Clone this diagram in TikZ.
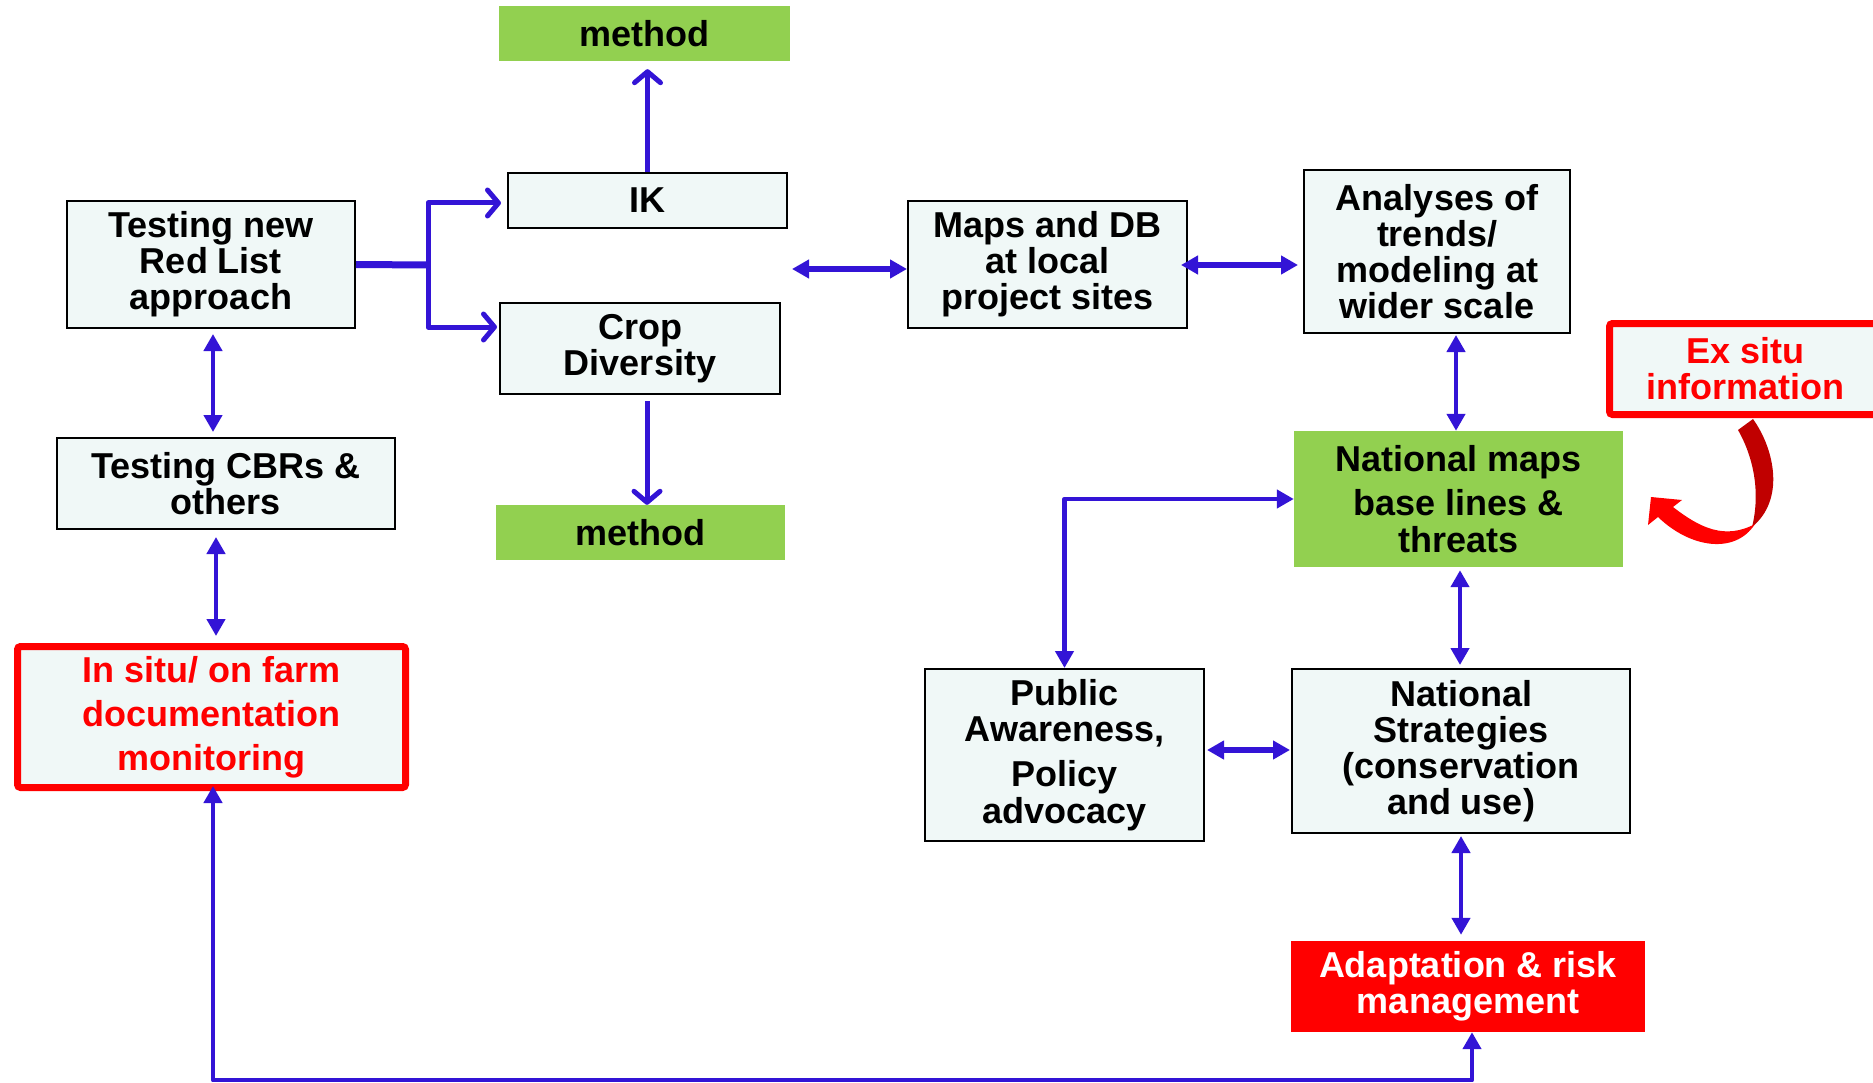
\documentclass[tikz,border=0pt]{standalone}
\usepackage{fontspec}
\setmainfont{Liberation Sans}
\usetikzlibrary{arrows.meta,calc}
\definecolor{boxfill}{RGB}{240,248,247}
\definecolor{grn}{RGB}{146,208,80}
\definecolor{arrblue}{RGB}{51,20,214}
\definecolor{rd}{RGB}{255,0,0}
\definecolor{dkrd}{RGB}{192,0,0}
\begin{document}
\begin{tikzpicture}[x=1pt,y=-1pt,
  base/.style={align=center, inner sep=0pt, font=\bfseries\fontsize{36}{36}\selectfont},
  wbox/.style={base, draw=black, line width=2pt, fill=boxfill},
  gbox/.style={base, fill=grn},
  rbox/.style={base, draw=rd, line width=7pt, fill=boxfill, text=rd, rounded corners=3pt},
  abox/.style={base, fill=rd, text=white},
  openarr/.style={draw=arrblue, line width=5pt, line join=round, -{Straight Barb[length=11pt,width=26pt,round]}},
  dblv/.style={draw=arrblue, line width=4.5pt, {Triangle[length=17pt,width=18pt]}-{Triangle[length=17pt,width=18pt]}},
  dblh/.style={dblv, line width=6pt}
]
\fill[white] (0,0) rectangle (1873,1083);
\useasboundingbox (0,0) rectangle (1873,1083);

% nodes
\node[gbox, minimum width=291pt, minimum height=55pt] (m1) at (644.5,33.5) {method};
\node[wbox, minimum width=279pt, minimum height=55pt] (IK) at (647.5,200.5) {IK};
\node[wbox, minimum width=288pt, minimum height=127pt] (RL) at (211,264.5) {Testing new\\Red List\\approach};
\node[wbox, minimum width=280pt, minimum height=91pt] (Crop) at (640,348.5) {Crop\\Diversity};
\node[gbox, minimum width=289pt, minimum height=55pt] (m2) at (640.5,532.5) {method};
\node[wbox, minimum width=338pt, minimum height=91pt] (CBR) at (226,483.5) {Testing CBRs \&\\others};
\node[rbox, minimum width=388pt, minimum height=141pt] (InSitu) at (211.5,717) {In situ/ on farm\\[8pt]documentation\\[8pt]monitoring};
\node[wbox, minimum width=279pt, minimum height=127pt] (Maps) at (1047.5,264.5) {Maps and DB\\at local\\project sites};
\node[wbox, minimum width=266pt, minimum height=163pt] (Ana) at (1437,251.5) {Analyses of\\trends/\\modeling at\\wider scale};
\node[rbox, minimum width=271pt, minimum height=91pt] (ExSitu) at (1745,369) {Ex situ\\information};
\node[gbox, minimum width=329pt, minimum height=136pt] (NatMaps) at (1458.5,499) {National maps\\[8pt]base lines \&\\[1pt]threats};
\node[wbox, minimum width=279pt, minimum height=172pt] (Public) at (1064.5,755) {Public\\Awareness,\\[9pt]Policy\\[1pt]advocacy};
\node[wbox, minimum width=338pt, minimum height=164pt] (NatStrat) at (1461,751) {National\\Strategies\\(conservation\\and use)};
\node[abox, minimum width=354pt, minimum height=91pt] (Adapt) at (1468,986.5) {Adaptation \& risk\\management};

% connectors
\draw[openarr] (IK.north) -- ($(IK.north |- m1.south)+(0,8)$);
\coordinate (J) at (428,265);
\draw[draw=arrblue, line width=7pt] (RL.east) -- (J);
\draw[openarr] ($(J)+(0,3)$) |- ($(IK.west)+(-6,2.5)$);
\draw[openarr] ($(J)+(0,-3)$) |- ($(Crop.west)+(-2,-21.5)$);
\draw[openarr] ($(Crop.south)+(7,6)$) -- ($(Crop.south |- m2.north)+(7,0)$);

\draw[dblv] ($(RL.south)+(2,5)$) -- ($(RL.south |- CBR.north)+(2,-5)$);
\draw[dblv] ($(InSitu.north)+(4.5,-7)$) -- ($(InSitu.north |- CBR.south)+(4.5,7)$);

\coordinate (F) at (792,269);
\draw[dblh] (F) -- (F -| Maps.west);
\draw[dblh] ($(Maps.east)+(-7,0.5)$) -- ($(Maps.east -| Ana.west)+(-5,0.5)$);
\draw[dblv] ($(NatMaps.north)+(-2.5,0)$) -- ($(NatMaps.north |- Ana.south)+(-2.5,1)$);
\draw[dblv] ($(NatMaps.south)+(1.5,3)$) -- ($(NatMaps.south |- NatStrat.north)+(1.5,-3)$);
\draw[dblv, line join=round] (Public.north) |- (NatMaps.west);
\draw[dblh] ($(Public.east)+(2,-5)$) -- ($(NatStrat.west)+(-1,-1)$);
\draw[dblv] ($(NatStrat.south)+(0,2)$) -- ($(NatStrat.south |- Adapt.north)+(0,-6)$);
\draw[dblv, line join=round] ($(Adapt.south)+(4,0)$) -- ++(0,48) -| ($(InSitu.south)+(1.5,-5)$);

% curved red arrow from Ex situ
\fill[dkrd] (1738,430) -- (1753,419) .. controls (1775,450) and (1785,500) .. (1752,527) .. controls (1760,495) and (1755,460) .. cycle;
\fill[rd] (1755,524) .. controls (1725,540) and (1700,528) .. (1673,507) -- (1682,500) -- (1651,497) -- (1648,525) -- (1658,517) .. controls (1690,548) and (1735,555) .. (1755,524) -- cycle;
\end{tikzpicture}
\end{document}
